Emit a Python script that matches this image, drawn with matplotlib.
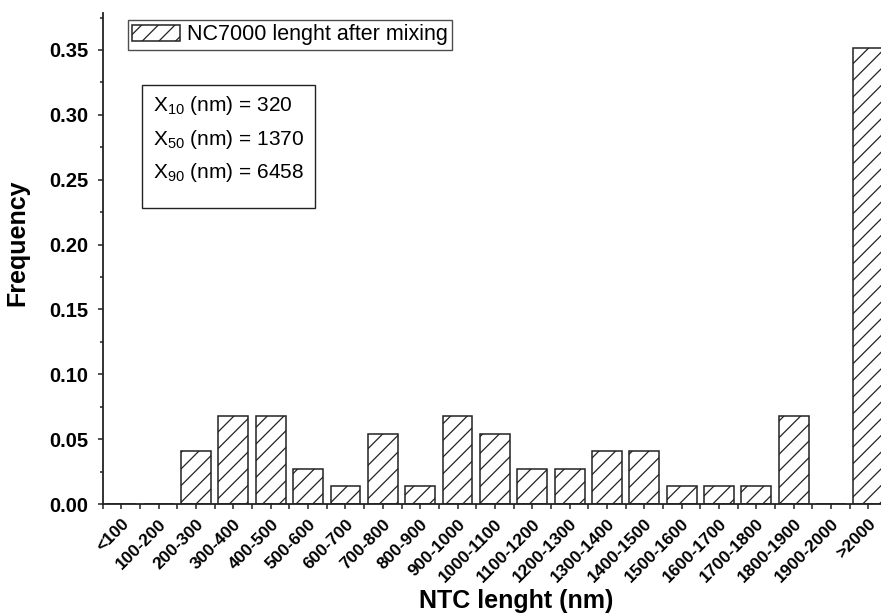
import matplotlib.pyplot as plt
from matplotlib.patches import Rectangle
import numpy as np

plt.rcParams['font.family'] = ['Liberation Sans', 'DejaVu Sans']
plt.rcParams['hatch.linewidth'] = 0.9
plt.rcParams['hatch.color'] = '#222222'

bins = ['<100', '100-200', '200-300', '300-400', '400-500', '500-600',
        '600-700', '700-800', '800-900', '900-1000', '1000-1100',
        '1100-1200', '1200-1300', '1300-1400', '1400-1500', '1500-1600',
        '1600-1700', '1700-1800', '1800-1900', '1900-2000', '>2000']
freq = [0.0, 0.0, 0.0405, 0.0676, 0.0676, 0.027, 0.0135, 0.0541, 0.0135,
        0.0676, 0.0541, 0.027, 0.027, 0.0405, 0.0405, 0.0135, 0.0135,
        0.0135, 0.0676, 0.0, 0.3514]
stats = [('10', 320), ('50', 1370), ('90', 6458)]

W, H = 881, 615
fig = plt.figure(figsize=(W / 100, H / 100), dpi=100)
# axes run a little past the right edge of the figure
ax = fig.add_axes([102.7 / W, 1 - 504 / H, 821.7 / W, 491 / H])

x = np.arange(len(bins))
ax.bar(x, freq, width=0.8, color='white', edgecolor='#222222',
       linewidth=1.1, hatch='//', label='NC7000 lenght after mixing')

ax.set_xlim(-0.5, 21.5)
ax.set_ylim(0, 0.3785)
ax.set_xticks(x)
ax.set_xticks(np.arange(-0.5, 21, 1.0), minor=True)
ax.set_xticklabels(bins, rotation=45, ha='right', rotation_mode='anchor',
                   fontsize=12.5, fontweight='bold')
ax.set_yticks(np.arange(0, 0.36, 0.05))
ax.set_yticks(np.arange(0.025, 0.38, 0.05), minor=True)
ax.set_yticklabels(['%.2f' % v for v in np.arange(0, 0.36, 0.05)],
                   fontsize=14.5, fontweight='bold')
ax.tick_params(axis='x', which='both', direction='out', length=3.8,
               width=1.1, pad=5, color='#222222')
ax.tick_params(axis='y', which='major', direction='out', length=3.8,
               width=1.1, pad=6.5, color='#222222')
ax.tick_params(axis='y', which='minor', direction='out', length=2.2,
               width=1.1, color='#222222')

for side in ['top', 'right']:
    ax.spines[side].set_visible(False)
for side in ['left', 'bottom']:
    ax.spines[side].set_linewidth(1.3)
    ax.spines[side].set_color('#222222')

ax.set_xlabel('NTC lenght (nm)', fontsize=18, fontweight='bold')
ax.xaxis.set_label_coords(516 / W, 1 - 589 / H, transform=fig.transFigure)
ax.set_ylabel('Frequency', fontsize=18, fontweight='bold', va='center')
ax.yaxis.set_label_coords(17 / W, 1 - 243 / H, transform=fig.transFigure)

leg = ax.legend(loc='upper left', bbox_to_anchor=(128 / W, 1 - 20 / H),
                bbox_transform=fig.transFigure, fontsize=15.5,
                frameon=True, fancybox=False, borderpad=0.2,
                handlelength=2.2, handleheight=0.8, handletextpad=0.35,
                borderaxespad=0)
leg.get_frame().set_edgecolor('#222222')
leg.get_frame().set_linewidth(1.0)

# percentile box
fig.add_artist(Rectangle((142 / W, 1 - 208 / H), 173 / W, 123 / H,
                         transform=fig.transFigure, fill=False,
                         edgecolor='#222222', linewidth=1.0))
txt = '\n'.join(r'X$_{\mathregular{%s}}$ (nm) = %d' % (s, v) for s, v in stats)
fig.text(153 / W, 1 - 94 / H, txt, fontsize=15, va='top', ha='left',
         linespacing=1.62)

fig.savefig('out.png', dpi=100)
